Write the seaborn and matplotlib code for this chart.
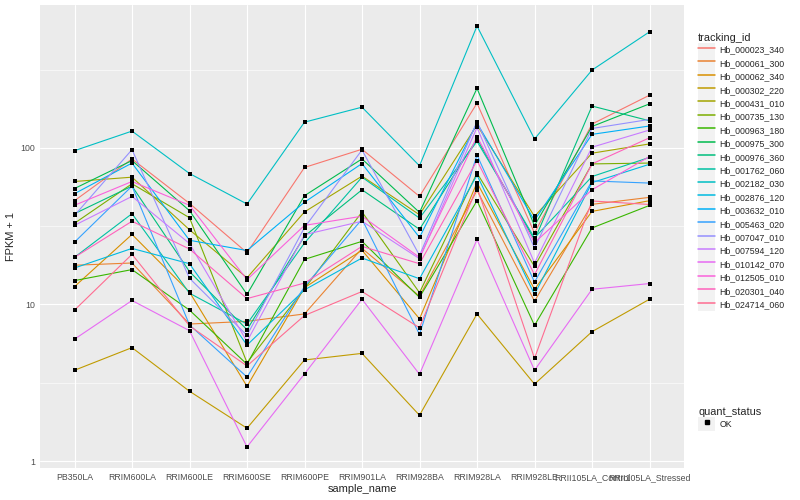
import numpy as np
import pandas as pd
import matplotlib

matplotlib.use('Agg')
import matplotlib.pyplot as plt
import matplotlib.ticker as mticker
from matplotlib.lines import Line2D
from matplotlib.patches import Patch
import seaborn as sns

##################### data (FPKM + 1)
samples = ['PB350LA', 'RRIM600LA', 'RRIM600LE', 'RRIM600SE', 'RRIM600PE', 'RRIM901LA',
           'RRIM928BA', 'RRIM928LA', 'RRIM928LE', 'RRII105LA_Control', 'RRII105LA_Stressed']

hb_000023_340 = [46, 85, 44.2, 21.4, 75, 98, 49, 193, 28.6, 142, 217]
hb_000061_300 = [17.8, 18.4, 7.5, 7.8, 8.7, 22.8, 11.3, 53.5, 10.5, 43.6, 48.3]
hb_000062_340 = [13, 28, 12.0, 3.0, 12.8, 22.2, 8.1, 60, 12.5, 39.3, 46]
hb_000302_220 = [3.8, 5.3, 2.79, 1.62, 4.42, 4.87, 1.96, 8.7, 3.1, 6.7, 10.8]
hb_000431_010 = [61, 65, 30, 14.8, 39, 66, 37.4, 140, 36.5, 92.5, 106]
hb_000735_130 = [33, 59, 35.8, 4.25, 12.6, 39, 11.9, 69, 17.5, 79, 80]
hb_000963_180 = [14.2, 16.7, 9.2, 4.15, 19.4, 25.3, 11.1, 46, 7.35, 30.8, 42.9]
hb_000975_300 = [55, 83, 39.7, 11.6, 49.5, 85, 38.7, 240, 31.9, 137, 191]
hb_000976_360 = [38, 57, 16.2, 6.9, 27.3, 54, 30.2, 114, 25.8, 185, 149]
hb_001762_060 = [20, 38, 11.8, 7.5, 24.7, 65, 35.6, 110, 26.6, 65.6, 87]
hb_002182_030 = [96, 128, 68.6, 43.8, 146, 182, 76.8, 600, 114, 314, 551]
hb_002876_120 = [17.1, 22.8, 18.2, 5.5, 12.4, 19.8, 14.6, 67, 11.6, 60, 78.6]
hb_003632_010 = [51, 80, 25.7, 22.1, 45, 79.4, 26.8, 144, 34.4, 122, 138]
hb_005463_020 = [25, 57, 7.4, 3.44, 13.0, 35, 6.44, 90, 13.9, 61.5, 59.6]
hb_007047_010 = [37, 97.5, 14.7, 6.35, 31, 97, 20.6, 147, 23, 133, 152]
hb_007594_120 = [32, 49, 24.5, 5.8, 27.9, 34, 19.6, 135, 18.4, 101, 130]
hb_010142_070 = [6.0, 10.6, 6.8, 1.23, 3.6, 10.8, 3.58, 26, 3.8, 12.5, 13.6]
hb_012505_010 = [43, 61, 43, 14.4, 32, 36.6, 20.0, 118, 24.8, 54, 88]
hb_020301_040 = [20, 34, 22.6, 10.9, 13.7, 23.5, 18.2, 83, 15.5, 79, 116]
hb_024714_060 = [9.2, 20.9, 7.3, 4.05, 8.5, 12.1, 7.1, 56, 4.53, 45.8, 43.5]

tracking_ids = ['Hb_000023_340', 'Hb_000061_300', 'Hb_000062_340', 'Hb_000302_220', 'Hb_000431_010',
                'Hb_000735_130', 'Hb_000963_180', 'Hb_000975_300', 'Hb_000976_360', 'Hb_001762_060',
                'Hb_002182_030', 'Hb_002876_120', 'Hb_003632_010', 'Hb_005463_020', 'Hb_007047_010',
                'Hb_007594_120', 'Hb_010142_070', 'Hb_012505_010', 'Hb_020301_040', 'Hb_024714_060']
series = [hb_000023_340, hb_000061_300, hb_000062_340, hb_000302_220, hb_000431_010,
          hb_000735_130, hb_000963_180, hb_000975_300, hb_000976_360, hb_001762_060,
          hb_002182_030, hb_002876_120, hb_003632_010, hb_005463_020, hb_007047_010,
          hb_007594_120, hb_010142_070, hb_012505_010, hb_020301_040, hb_024714_060]

# ggplot default hue palette for 20 levels
colors = ['#F8766D', '#EA8331', '#D89000', '#C09B00', '#A3A500', '#7CAE00', '#39B600', '#00BB4E',
          '#00BF7D', '#00C1A3', '#00BFC4', '#00BAE0', '#00B0F6', '#35A2FF', '#9590FF', '#C77CFF',
          '#E76BF3', '#FA62DB', '#FF62BC', '#FF6C91']

rows = []
for tid, vals in zip(tracking_ids, series):
    for s, v in zip(samples, vals):
        rows.append([tid, s, v, 'OK'])
df = pd.DataFrame(rows, columns=['tracking_id', 'sample_name', 'fpkm', 'quant_status'])
df['xpos'] = df['sample_name'].map({s: i for i, s in enumerate(samples)})

sns.set_style("white")
plt.rcParams['font.family'] = ['Liberation Sans', 'DejaVu Sans']

fig = plt.figure(figsize=[8, 5], dpi=100)
ax = fig.add_axes([40 / 800, 1 - 468 / 500, 644 / 800, 463 / 500])
ax.set_facecolor('#EBEBEB')
for sp in ax.spines.values():
    sp.set_visible(False)

sns.lineplot(data=df, x='xpos', y='fpkm', hue='tracking_id', hue_order=tracking_ids,
             palette=colors, sort=False, estimator=None, lw=0.8, legend=False, ax=ax, zorder=3)
sns.scatterplot(data=df, x='xpos', y='fpkm', color='black', marker='s', s=8, linewidth=0,
                legend=False, ax=ax, zorder=4)

ax.set_yscale('log')
lo, hi = np.log10(df['fpkm'].min()), np.log10(df['fpkm'].max())
pad = 0.05 * (hi - lo)
ax.set_ylim(10 ** (lo - pad), 10 ** (hi + pad))
ax.set_xlim(-0.6, len(samples) - 0.4)

ax.set_xticks(range(len(samples)))
ax.set_xticklabels(samples)
ax.yaxis.set_major_locator(mticker.FixedLocator([1, 10, 100]))
ax.yaxis.set_major_formatter(mticker.FixedFormatter(['1', '10', '100']))
ax.yaxis.set_minor_locator(mticker.FixedLocator([10 ** 0.5, 10 ** 1.5, 10 ** 2.5]))
ax.yaxis.set_minor_formatter(mticker.NullFormatter())

ax.grid(which='major', color='white', lw=0.8, zorder=0)
ax.yaxis.grid(which='minor', color='white', lw=0.4, zorder=0)
ax.set_axisbelow(True)
ax.tick_params(which='major', length=2.2, width=0.6, color='#333333', labelcolor='#4D4D4D',
               labelsize=6.3, pad=1.5)
ax.tick_params(which='minor', length=0)

ax.set_xlabel('sample_name', fontsize=7.9, labelpad=1.5)
ax.set_ylabel('FPKM + 1', fontsize=7.9, labelpad=3)

# legends in ggplot style
key_bg = '#F2F2F2'
h1 = [(Patch(facecolor=key_bg, edgecolor='none'), Line2D([], [], color=c, lw=1.1)) for c in colors]
leg1 = fig.legend(h1, tracking_ids, loc='upper left', bbox_to_anchor=(692 / 800, 1 - 27 / 500),
                  title='tracking_id', frameon=False, fontsize=6.3, title_fontsize=7.9,
                  handlelength=1.95, handleheight=1.98, labelspacing=0.0, handletextpad=0.45,
                  borderpad=0.2, alignment='left')
h2 = [(Patch(facecolor=key_bg, edgecolor='none'),
       Line2D([], [], color='black', marker='s', markersize=2.5, lw=0))]
leg2 = fig.legend(h2, ['OK'], loc='upper left', bbox_to_anchor=(692 / 800, 1 - 401 / 500),
                  title='quant_status', frameon=False, fontsize=6.3, title_fontsize=7.9,
                  handlelength=1.95, handleheight=1.98, labelspacing=0.0, handletextpad=0.45,
                  borderpad=0.2, alignment='left')

fig.savefig('out.png', dpi=100)
